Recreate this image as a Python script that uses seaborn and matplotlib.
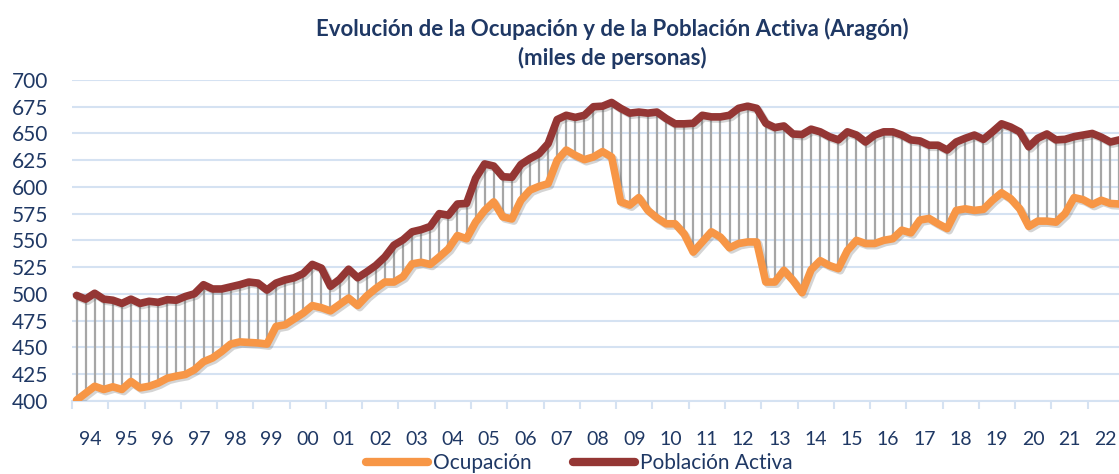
import numpy as np
import pandas as pd
import matplotlib
matplotlib.use("Agg")
import matplotlib.pyplot as plt
import matplotlib.patheffects as pe
from matplotlib.lines import Line2D
import seaborn as sns

# quarterly data 1994 Q1 .. 2022 Q4 (miles de personas)
years = [f"{y % 100:02d}" for y in range(1994, 2023)]

ocupacion = [
    400.5, 407, 413.5, 410.5, 413, 410.5, 418, 412, 413.5, 416.5, 421, 423, 424.5, 429, 436.5, 440,
    446, 453, 455, 454.5, 454, 453, 469.5, 471, 476.5, 482, 489, 487, 484, 490, 496, 489,
    498, 505, 511, 511, 516, 528, 529.5, 527.5, 534.5, 542, 554.5, 551.5, 567, 578, 586, 572,
    570, 587.5, 597, 600.5, 603, 625, 634.5, 629.5, 625.5, 628, 633, 628, 586, 583, 590, 578,
    571, 565.5, 565.5, 556, 539, 548.5, 558, 553, 543, 547, 548.5, 548.5, 511, 511, 522, 512.5,
    501, 522.5, 531, 526.5, 523.5, 540.5, 550, 547, 547, 550, 551.5, 559.5, 557, 569, 570.5, 565.5,
    561, 578, 579.5, 578, 579, 587.5, 594.5, 589, 579.5, 563, 568, 568, 567, 575, 590, 588,
    583.5, 587.5, 584.5, 584,
]

poblacion_activa = [
    498.5, 495, 500.5, 495, 494, 491, 495, 491, 493, 492, 494.5, 494, 497.5, 500, 508.5, 504.5,
    504.5, 506.5, 508.5, 511, 510, 503.5, 510, 513, 515, 519, 527.5, 524, 507, 513.5, 523, 515,
    520.5, 526.5, 534.5, 545.5, 550.5, 558, 560, 563, 575, 573.5, 584, 584.5, 608, 621.5, 619.5, 609.5,
    609, 621, 626.5, 631, 640.5, 663, 667, 665, 667, 675, 675.5, 679, 673.5, 669, 670, 669,
    670, 664, 659, 659, 659.5, 667, 665.5, 665.5, 667, 673.5, 675.5, 673.5, 659.5, 655.5, 657, 649.5,
    649, 654, 651.5, 647, 644, 651.5, 648.5, 642, 648.5, 651.5, 651.5, 648.5, 644, 643, 639, 639,
    634.5, 642, 645.5, 648.5, 644.5, 651.5, 659, 656, 651.5, 637.5, 645.5, 649.5, 644, 644.5, 647, 648.5,
    650, 646.5, 642, 644,
]

df = pd.DataFrame({
    "q": np.arange(len(ocupacion)),
    "Ocupación": ocupacion,
    "Población Activa": poblacion_activa,
})

col_ocup = "#F79646"
col_act = "#943634"
col_grid = "#D5E2F2"
col_text = "#1F3864"

sns.set_style("white")
plt.rcParams["font.family"] = ["Lato", "DejaVu Sans"]

fig = plt.figure(figsize=(11.19, 4.74), dpi=100)
ax = fig.add_axes([72 / 1119, 1 - 400.7 / 474, (1124 - 72) / 1119, (400.7 - 80) / 474])

# grey drop lines between the two series
ax.vlines(df["q"], df["Ocupación"], df["Población Activa"], color="#A6A6A6", lw=1.6, zorder=2)

shadow = [pe.SimpleLineShadow(offset=(1.5, -1.5), alpha=0.25, shadow_color="#555555"), pe.Normal()]
sns.lineplot(data=df, x="q", y="Población Activa", color=col_act, lw=5.5, ax=ax, zorder=3,
             solid_joinstyle="round", solid_capstyle="round", path_effects=shadow)
sns.lineplot(data=df, x="q", y="Ocupación", color=col_ocup, lw=5.5, ax=ax, zorder=4,
             solid_joinstyle="round", solid_capstyle="round", path_effects=shadow)

ax.set_xlim(-0.5, len(ocupacion) - 0.5)
ax.set_ylim(400, 700)
ax.set_yticks(np.arange(400, 701, 25))
ax.yaxis.grid(True, color=col_grid, lw=1.5)
ax.set_axisbelow(True)

# ticks at year boundaries, labels centred in each year
ax.set_xticks(np.arange(-0.5, len(ocupacion), 4))
ax.set_xticklabels([])
ax.set_xticks(np.arange(1.5, len(ocupacion), 4), minor=True)
ax.set_xticklabels(years, minor=True)
ax.tick_params(axis="x", which="major", direction="out", length=6, width=1.5, color=col_grid, bottom=True)
ax.tick_params(axis="x", which="minor", length=0, pad=22, labelsize=14, labelcolor=col_text)
ax.tick_params(axis="y", length=0, pad=43, labelsize=15, labelcolor=col_text)
for lab in ax.get_yticklabels():
    lab.set_horizontalalignment("left")

for s in ["top", "right", "left"]:
    ax.spines[s].set_visible(False)
ax.spines["bottom"].set_color(col_grid)
ax.spines["bottom"].set_linewidth(1.5)
ax.set_xlabel("")
ax.set_ylabel("")

fig.text(612 / 1119, 1 - 29 / 474, "Evolución de la Ocupación y de la Población Activa (Aragón)",
         ha="center", va="center", fontsize=16, fontweight="bold", color=col_text)
fig.text(612 / 1119, 1 - 58 / 474, "(miles de personas)",
         ha="center", va="center", fontsize=16, fontweight="bold", color=col_text)

handles = [Line2D([], [], color=col_ocup, lw=6), Line2D([], [], color=col_act, lw=6)]
leg = fig.legend(handles, ["Ocupación", "Población Activa"], loc="center",
                 bbox_to_anchor=(579 / 1119, 1 - 463 / 474), ncol=2, frameon=False,
                 handlelength=3.0, handletextpad=0.2, columnspacing=2.0, fontsize=15)
for t in leg.get_texts():
    t.set_color(col_text)

fig.savefig("out.png", dpi=100)
